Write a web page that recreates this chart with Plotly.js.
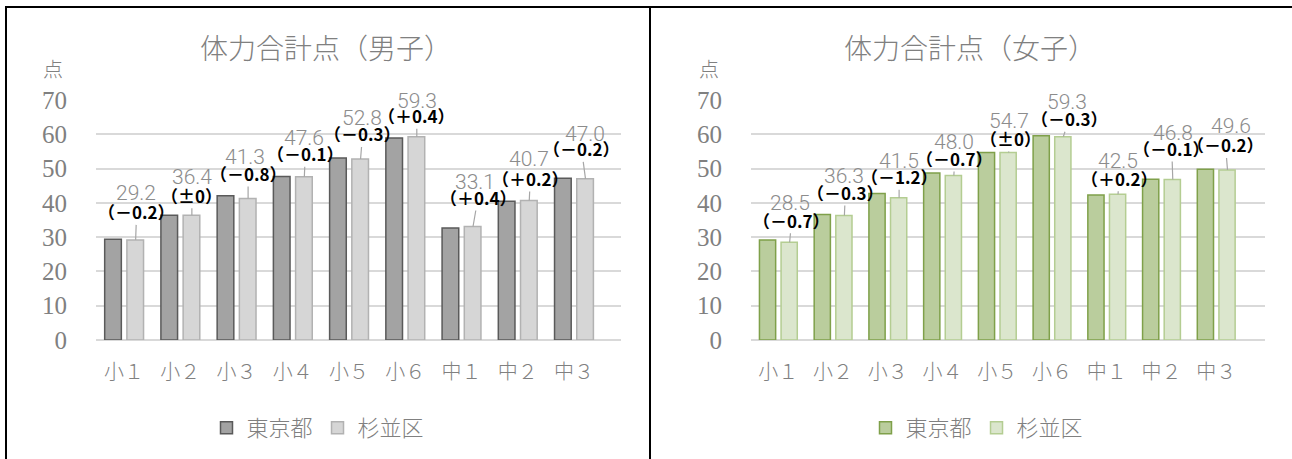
<!DOCTYPE html>
<html>
<head>
<meta charset="utf-8">
<script src="https://cdn.plot.ly/plotly-3.0.1.min.js"></script>
<style>html,body{margin:0;padding:0;background:#fff;}#chart{width:1292px;height:459px;}</style>
</head>
<body>
<div id="chart"></div>
<script>
// ---- data ----
const categories = ['小１','小２','小３','小４','小５','小６','中１','中２','中３'];
const seriesNames = ['東京都','杉並区'];
const boysTokyo    = [29.4, 36.4, 42.1, 47.7, 53.1, 58.9, 32.7, 40.5, 47.2];
const boysSuginami = [29.2, 36.4, 41.3, 47.6, 52.8, 59.3, 33.1, 40.7, 47.0];
const boysDiff     = [-0.2, 0, -0.8, -0.1, -0.3, 0.4, 0.4, 0.2, -0.2];
const girlsTokyo    = [29.2, 36.6, 42.7, 48.7, 54.7, 59.6, 42.3, 46.9, 49.8];
const girlsSuginami = [28.5, 36.3, 41.5, 48.0, 54.7, 59.3, 42.5, 46.8, 49.6];
const girlsDiff     = [-0.7, -0.3, -1.2, -0.7, 0, -0.3, 0.2, -0.1, -0.2];
const titles = ['体力合計点（男子）','体力合計点（女子）'];
const unitLabel = '点';

// ---- label placement (pixel offsets of the data labels) ----
const boysDiffDy  = [28,20,25,23,25,21,29,22,30];
const boysDiffDx  = [1,0,0,1,2,0,5,1,-4];
const boysValDy   = [19,18,16,16,16,15,16,19,15];
const boysValDx   = [0,0,-3,0,1,0,2,0,-1];
const girlsDiffDy = [22,23,21,17,14,18,16,31,25];
const girlsDiffDx = [2,1,0,1,2,6,1,-1,-2];
const girlsValDy  = [17,17,16,16,17,17,17,16,19];
const girlsValDx  = [0,0,0,0,0,4,0,0,4];

const W = 1292, H = 459;
const px = v => v / W;
const py = v => 1 - v / H;
const bargap = 0.21, bargroupgap = 0.25;
const domL = [px(96), px(621)], domR = [px(751), px(1265)];
const domY = [py(340), py(100)];

function fmtDiff(d) {
  let s;
  if (Math.abs(d) < 1e-9) s = '±0';
  else if (d > 0) s = '＋' + d.toFixed(1);
  else s = '－' + Math.abs(d).toFixed(1);
  return '（' + s + '）';
}

const cjk = 'Noto Sans CJK JP';
const grey = '#808080';

const traces = [
  {type:'bar', name:seriesNames[0], x:categories, y:boysTokyo, xaxis:'x', yaxis:'y', legend:'legend',
   marker:{color:'#a3a3a3', line:{color:'#5a5a5a', width:1.5}}, hoverinfo:'skip'},
  {type:'bar', name:seriesNames[1], x:categories, y:boysSuginami, xaxis:'x', yaxis:'y', legend:'legend',
   marker:{color:'#d6d6d6', line:{color:'#b2b2b2', width:1.5}}, hoverinfo:'skip'},
  {type:'bar', name:seriesNames[0], x:categories, y:girlsTokyo, xaxis:'x2', yaxis:'y2', legend:'legend2',
   marker:{color:'#bacd9d', line:{color:'#7fa04a', width:1.5}}, hoverinfo:'skip'},
  {type:'bar', name:seriesNames[1], x:categories, y:girlsSuginami, xaxis:'x2', yaxis:'y2', legend:'legend2',
   marker:{color:'#dbe6cd', line:{color:'#b4cd92', width:1.5}}, hoverinfo:'skip'}
];

const annotations = [];
function addLabels(xa, ya, dom, vals, diffs, dDy, dDx, vDy, vDx) {
  const catW = (dom[1]-dom[0]) * W / categories.length;
  const off = catW * (1 - bargap) / 4;
  categories.forEach((c, i) => {
    annotations.push({
      xref: xa, yref: ya, x: c, y: vals[i], xshift: off,
      text: fmtDiff(diffs[i]), showarrow: true, arrowhead: 0, arrowwidth: 1.2,
      arrowcolor: '#a6a6a6', axref: 'pixel', ayref: 'pixel', ax: dDx[i], ay: -dDy[i],
      standoff: 0, startstandoff: 0, borderpad: 0,
      font: {family: cjk, size: 17, color: '#000', weight: 'bold'}
    });
    annotations.push({
      xref: xa, yref: ya, x: c, y: vals[i], xshift: off + vDx[i], yshift: dDy[i] + vDy[i],
      xanchor: 'center', yanchor: 'middle',
      text: vals[i].toFixed(1), showarrow: false,
      font: {family: 'Roboto', size: 21, color: '#8c8c8c', weight: 300}
    });
  });
}
addLabels('x', 'y', domL, boysSuginami, boysDiff, boysDiffDy, boysDiffDx, boysValDy, boysValDx);
addLabels('x2', 'y2', domR, girlsSuginami, girlsDiff, girlsDiffDy, girlsDiffDx, girlsValDy, girlsValDx);

function paperText(x, y, text, size) {
  annotations.push({xref:'paper', yref:'paper', x:px(x), y:py(y), xanchor:'center', yanchor:'middle',
    text:text, showarrow:false, font:{family:cjk, size:size, color:grey, weight:300}});
}
paperText(326, 47, titles[0], 28);
paperText(970, 47, titles[1], 28);
paperText(53, 68, unitLabel, 20);
paperText(709, 68, unitLabel, 20);

const yax = (anchor) => ({
  domain: domY, anchor: anchor, range: [0, 70], dtick: 10, tick0: 0, fixedrange: true,
  showgrid: true, gridcolor: '#d9d9d9', gridwidth: 2,
  zeroline: true, zerolinecolor: '#d9d9d9', zerolinewidth: 2, showline: false,
  ticks: '', ticklabelstandoff: 28,
  tickfont: {family: 'Liberation Serif', size: 25, color: grey}
});
const xax = (dom, anchor) => ({
  domain: dom, anchor: anchor, type: 'category', fixedrange: true,
  showgrid: false, zeroline: false, showline: false, ticks: '', ticklabelstandoff: 18,
  tickfont: {family: cjk, size: 20, color: grey, weight: 300}
});

const frameLine = {color: '#000', width: 2};
const layout = {
  width: W, height: H, margin: {l:0, r:0, t:0, b:0, pad:0},
  paper_bgcolor: '#fff', plot_bgcolor: 'rgba(0,0,0,0)',
  barmode: 'group', bargap: bargap, bargroupgap: bargroupgap,
  xaxis: xax(domL, 'y'), yaxis: yax('x'),
  xaxis2: xax(domR, 'y2'), yaxis2: yax('x2'),
  showlegend: true,
  legend: {orientation: 'h', x: px(318), y: py(428), xanchor: 'center', yanchor: 'middle',
    font: {family: cjk, size: 22, color: grey, weight: 300}, itemwidth: 30, bgcolor: 'rgba(0,0,0,0)'},
  legend2: {orientation: 'h', x: px(977), y: py(428), xanchor: 'center', yanchor: 'middle',
    font: {family: cjk, size: 22, color: grey, weight: 300}, itemwidth: 30, bgcolor: 'rgba(0,0,0,0)'},
  annotations: annotations,
  shapes: [
    {type: 'path', xref: 'paper', yref: 'paper',
     path: `M ${px(6)} 0 L ${px(6)} ${py(7)} L 1 ${py(7)}`, line: frameLine},
    {type: 'line', xref: 'paper', yref: 'paper', x0: px(650), x1: px(650), y0: 0, y1: py(7), line: frameLine}
  ]
};

Plotly.newPlot('chart', traces, layout, {staticPlot: true, displayModeBar: false});
</script>
</body>
</html>
